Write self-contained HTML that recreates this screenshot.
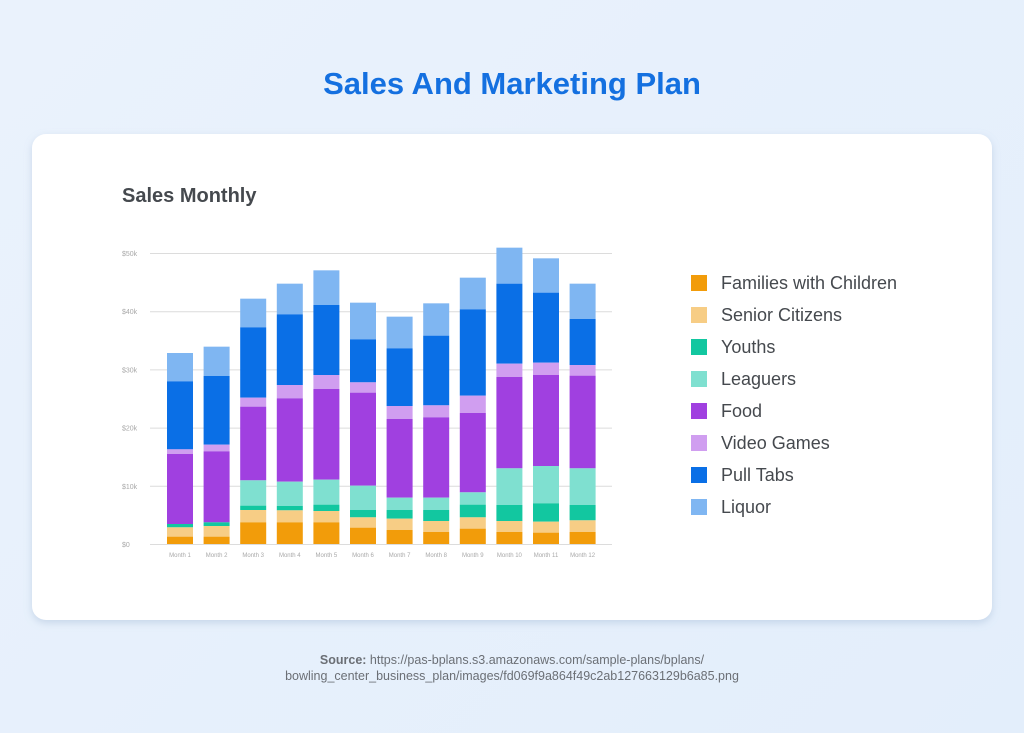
<!DOCTYPE html>
<html><head><meta charset="utf-8"><style>
html,body{margin:0;padding:0;width:1024px;height:733px;overflow:hidden;background:linear-gradient(135deg,#eaf2fc,#e3eefb);font-family:"Liberation Sans",sans-serif}
</style></head><body>
<svg width="1024" height="733" xmlns="http://www.w3.org/2000/svg" style="position:absolute;left:0;top:0">
<defs><filter id="sh" x="-5%" y="-5%" width="110%" height="115%"><feDropShadow dx="0" dy="3" stdDeviation="4" flood-color="#8aa6c8" flood-opacity="0.35"/></filter></defs>
<text x="512" y="94" text-anchor="middle" font-size="31" font-weight="bold" fill="#1470e0">Sales And Marketing Plan</text>
<rect x="32" y="134" width="960" height="486" rx="14" fill="#fff" filter="url(#sh)"/>
<text x="122" y="202" font-size="20" font-weight="bold" fill="#45494e">Sales Monthly</text>
<g id="grid" stroke="#dcdcdc" stroke-width="1"></g>
<g id="bars"></g>
<g id="lab" font-size="7" fill="#a8a8a8"></g>
<g font-size="18" fill="#45494e">
<rect x="691" y="275" width="16" height="16" fill="#f29c0a"/><text x="721" y="289">Families with Children</text>
<rect x="691" y="307" width="16" height="16" fill="#f7cd85"/><text x="721" y="321">Senior Citizens</text>
<rect x="691" y="339" width="16" height="16" fill="#12c7a0"/><text x="721" y="353">Youths</text>
<rect x="691" y="371" width="16" height="16" fill="#7fe0d0"/><text x="721" y="385">Leaguers</text>
<rect x="691" y="403" width="16" height="16" fill="#a040e0"/><text x="721" y="417">Food</text>
<rect x="691" y="435" width="16" height="16" fill="#d09ef0"/><text x="721" y="449">Video Games</text>
<rect x="691" y="467" width="16" height="16" fill="#0a6fe6"/><text x="721" y="481">Pull Tabs</text>
<rect x="691" y="499" width="16" height="16" fill="#7fb6f2"/><text x="721" y="513">Liquor</text>
</g>
<text x="512" y="664" text-anchor="middle" font-size="12.5" fill="#6b6f75"><tspan font-weight="bold">Source:</tspan> https://pas-bplans.s3.amazonaws.com/sample-plans/bplans/</text>
<text x="512" y="680" text-anchor="middle" font-size="12.5" fill="#6b6f75">bowling_center_business_plan/images/fd069f9a864f49c2ab127663129b6a85.png</text>
</svg>
<script>
var ns="http://www.w3.org/2000/svg";
function el(p,t,a,txt){var e=document.createElementNS(ns,t);for(var k in a)e.setAttribute(k,a[k]);if(txt)e.textContent=txt;document.getElementById(p).appendChild(e);}
var gy=[544,485.8,427.6,369.4,311.2,253],gl=["$0","$10k","$20k","$30k","$40k","$50k"];
gy.forEach(function(y,i){el("grid","line",{x1:150,x2:612,y1:y+0.5,y2:y+0.5});el("lab","text",{x:122,y:y+3},gl[i]);});
var cols=["#7fb6f2","#0a6fe6","#d09ef0","#a040e0","#7fe0d0","#12c7a0","#f7cd85","#f29c0a"];
var d=[[339,424,628,642,852,852,862,890],[320,408,614,634,847,847,858,890],[176,262,473,500,721,797,810,847],[131,223,435,475,725,798,811,847],[91,195,405,447,719,794,813,847],[188,298,427,458,737,810,832,863],[230,325,498,537,773,810,836,870],[190,287,496,532,773,810,843,876],[113,208,467,519,757,794,832,866],[23,131,371,411,685,795,843,876],[55,158,368,405,678,790,845,878],[131,237,375,407,685,795,841,876]];
d.forEach(function(b,i){var x=167+36.6*i;var z=b.concat([912]);
for(var j=0;j<8;j++){var y1=z[j]/3+240,y2=z[j+1]/3+240;if(y2>y1)el("bars","rect",{x:x,y:y1,width:26,height:y2-y1,fill:cols[j]});}
el("lab","text",{x:x+13,y:557,"text-anchor":"middle","font-size":"6"},"Month "+(i+1));});
</script>
</body></html>
